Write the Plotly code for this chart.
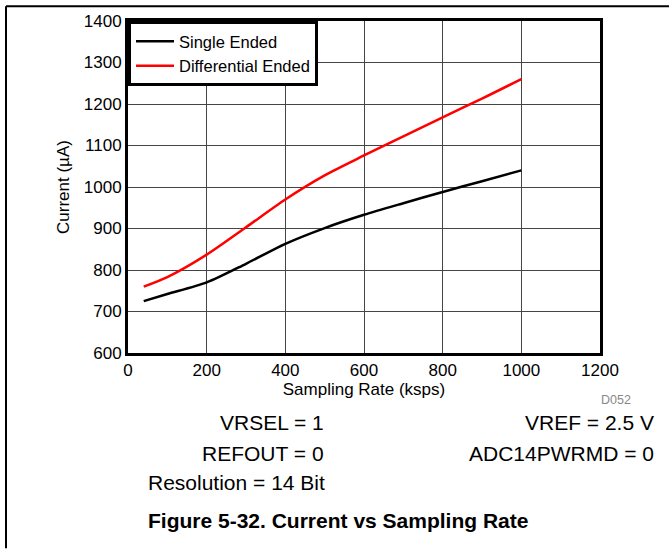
import plotly.graph_objects as go

# Data
rate_single = [40, 100, 200, 300, 400, 500, 600, 700, 800, 900, 1000]
current_single = [725, 742, 770, 815, 863, 901, 933, 961, 988, 1014, 1040]
rate_diff = [40, 100, 200, 300, 400, 500, 600, 700, 800, 900, 1000]
current_diff = [760, 783, 837, 903, 970, 1028, 1076, 1122, 1168, 1213, 1260]

x_ticks = [0, 200, 400, 600, 800, 1000, 1200]
y_ticks = [600, 700, 800, 900, 1000, 1100, 1200, 1300, 1400]

W, H = 669, 550
L, R, T, B = 128, 600, 18, 353  # plot area in pixels


def px(xp):
    return (xp - L) / (R - L)


def py(yp):
    return (B - yp) / (B - T)


FONT = "Liberation Sans, Arial, sans-serif"

fig = go.Figure()
fig.add_trace(go.Scatter(x=rate_single, y=current_single, mode="lines",
                         name="Single Ended", line=dict(color="black", width=2.5, shape="spline", smoothing=0.8)))
fig.add_trace(go.Scatter(x=rate_diff, y=current_diff, mode="lines",
                         name="Differential Ended", line=dict(color="#ff0000", width=2.5, shape="spline", smoothing=0.8)))

fig.update_layout(
    width=W, height=H,
    margin=dict(l=L, r=W - R, t=T, b=H - B),
    paper_bgcolor="white", plot_bgcolor="white",
    font=dict(family=FONT, size=17, color="black"),
    showlegend=True,
    legend=dict(x=0, y=1, xanchor="left", yanchor="top", bgcolor="white",
                bordercolor="black", borderwidth=3, font=dict(size=16.5, family=FONT),
                tracegroupgap=0, itemwidth=38),
    xaxis=dict(range=[0, 1200], tickvals=x_ticks, showgrid=True, gridcolor="#444", gridwidth=1,
               showline=True, linecolor="black", linewidth=3, mirror=True, zeroline=False,
               ticks="", ticklen=0, tickfont=dict(size=17),
               title=dict(text="Sampling Rate (ksps)", font=dict(size=17), standoff=0)),
    yaxis=dict(range=[600, 1400], tickvals=y_ticks, showgrid=True, gridcolor="#444", gridwidth=1,
               showline=True, linecolor="black", linewidth=3, mirror=True, zeroline=False,
               ticks="", ticklen=0, tickfont=dict(size=17),
               title=dict(text="Current (µA)", font=dict(size=17), standoff=10)),
)

# Frame lines of the page
fig.add_shape(type="line", xref="paper", yref="paper", x0=px(6), x1=px(669), y0=py(3), y1=py(3),
              line=dict(color="black", width=2))
fig.add_shape(type="line", xref="paper", yref="paper", x0=px(6), x1=px(6), y0=py(3), y1=py(550),
              line=dict(color="black", width=2))

ann = [
    ("D052", 633, 400, "right", 12.5, "#888"),
    ("VRSEL = 1", 326, 423, "right", 21, "black"),
    ("VREF = 2.5 V", 656, 423, "right", 21, "black"),
    ("REFOUT = 0", 326, 454, "right", 21, "black"),
    ("ADC14PWRMD = 0", 656, 454, "right", 21, "black"),
    ("Resolution = 14 Bit", 146, 484, "left", 21, "black"),
    ("<b>Figure 5-32. Current vs Sampling Rate</b>", 146, 522, "left", 21, "black"),
]
for text, xp, yp, anchor, size, color in ann:
    fig.add_annotation(text=text, xref="paper", yref="paper", x=px(xp), y=py(yp),
                       xanchor=anchor, yanchor="middle", showarrow=False,
                       font=dict(size=size, color=color, family=FONT))

fig.write_html("out.html", config={"displayModeBar": False},
               post_script="document.body.style.margin='0';")
